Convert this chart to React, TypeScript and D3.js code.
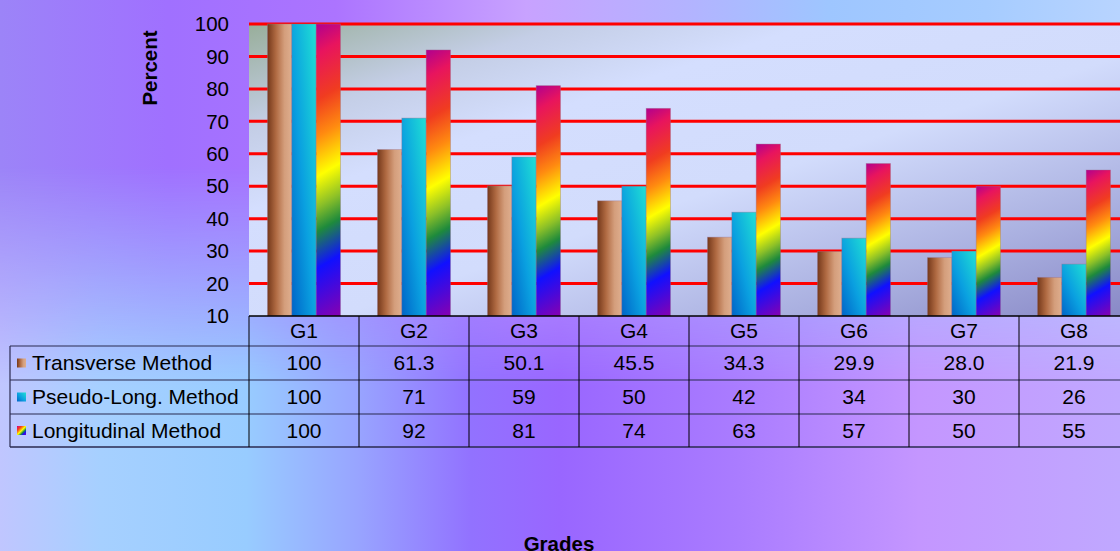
import React from "react";
import * as d3 from "d3";

const grades = ["G1", "G2", "G3", "G4", "G5", "G6", "G7", "G8"];
const seriesNames = ["Transverse Method", "Pseudo-Long. Method", "Longitudinal Method"];
const transverse = [100, 61.3, 50.1, 45.5, 34.3, 29.9, 28.0, 21.9];
const pseudoLong = [100, 71, 59, 50, 42, 34, 30, 26];
const longitudinal = [100, 92, 81, 74, 63, 57, 50, 55];
const transverseLabels = ["100", "61.3", "50.1", "45.5", "34.3", "29.9", "28.0", "21.9"];
const yTicks = [10, 20, 30, 40, 50, 60, 70, 80, 90, 100];

const W = 1120;
const H = 551;
const font = "Arial, 'Liberation Sans', sans-serif";

const rainbow = [
    [0, "#b0008f"], [0.1, "#e8145e"], [0.25, "#f03c20"], [0.37, "#ff8a10"],
    [0.5, "#ffff00"], [0.6, "#8cc028"], [0.68, "#1e8a3c"], [0.8, "#1010ff"], [1, "#8800b0"]
];

const App = () => {
    const plotL = 249, plotR = 1129, plotT = 24, plotB = 316;
    const rowH = [346, 380, 414, 447];
    const tableL = 10;
    const fs = 20.5;
    const tfs = 21;

    const x0 = d3.scaleBand().domain(grades).range([plotL, plotR]).padding(0);
    const x1 = d3.scaleBand().domain(seriesNames).range([0, x0.bandwidth()]).paddingInner(0).paddingOuter(0.76);
    const y = d3.scaleLinear().domain([10, 100]).range([plotB, plotT]);

    const allSeries = [transverse, pseudoLong, longitudinal];
    const rowLabels = [transverseLabels, pseudoLong.map(String), longitudinal.map(String)];
    const fills = ["url(#gBrown)", "url(#gCyan)", ""];
    const theta = Math.atan(14 / 24);

    return (
        <svg width={W} height={H} style={{position: "absolute", left: 0, top: 0, display: "block"}}
             fontFamily={font}>
            <defs>
                <linearGradient id="bgTop" x1="0" y1="0" x2="1" y2="0">
                    <stop offset="0" stopColor="#9c84f8"/>
                    <stop offset="0.15" stopColor="#a070ff"/>
                    <stop offset="0.3" stopColor="#ac74ff"/>
                    <stop offset="0.47" stopColor="#c8a2ff"/>
                    <stop offset="0.62" stopColor="#b2b4ff"/>
                    <stop offset="0.74" stopColor="#9ec6ff"/>
                    <stop offset="0.88" stopColor="#a6ccff"/>
                    <stop offset="1" stopColor="#b8d4ff"/>
                </linearGradient>
                <linearGradient id="bgBot" x1="0" y1="0" x2="1" y2="0">
                    <stop offset="0" stopColor="#c0c6ff"/>
                    <stop offset="0.09" stopColor="#a6d0ff"/>
                    <stop offset="0.22" stopColor="#98ccff"/>
                    <stop offset="0.32" stopColor="#98a4ff"/>
                    <stop offset="0.42" stopColor="#9272ff"/>
                    <stop offset="0.5" stopColor="#9966ff"/>
                    <stop offset="0.66" stopColor="#aa7cff"/>
                    <stop offset="0.82" stopColor="#c496ff"/>
                    <stop offset="1" stopColor="#c0a8ff"/>
                </linearGradient>
                <linearGradient id="maskGrad" x1="0" y1="0" x2="0" y2="1">
                    <stop offset="0.3" stopColor="#fff" stopOpacity="0"/>
                    <stop offset="0.7" stopColor="#fff" stopOpacity="1"/>
                </linearGradient>
                <mask id="bgMask">
                    <rect width={W} height={H} fill="url(#maskGrad)"/>
                </mask>
                <linearGradient id="plotGrad" x1="0" y1="0" x2="1" y2="1">
                    <stop offset="0" stopColor="#98ae9a"/>
                    <stop offset="0.18" stopColor="#c4cee6"/>
                    <stop offset="0.32" stopColor="#d4defe"/>
                    <stop offset="0.55" stopColor="#d2dcfc"/>
                    <stop offset="0.8" stopColor="#aab0e0"/>
                    <stop offset="1" stopColor="#8888c6"/>
                </linearGradient>
                <linearGradient id="gBrown" x1="0" y1="0" x2="1" y2="0">
                    <stop offset="0" stopColor="#74381a"/>
                    <stop offset="0.35" stopColor="#b06a42"/>
                    <stop offset="0.7" stopColor="#d49e7c"/>
                    <stop offset="1" stopColor="#deae8e"/>
                </linearGradient>
                <linearGradient id="gCyan" x1="0" y1="1" x2="1" y2="0">
                    <stop offset="0" stopColor="#0064c8"/>
                    <stop offset="0.45" stopColor="#0aa0e0"/>
                    <stop offset="1" stopColor="#20e0d4"/>
                </linearGradient>
                <linearGradient id="gRainbowLegend" x1="0" y1="0" x2="1" y2="1">
                    {rainbow.map(([o, c], i) => <stop key={i} offset={o as number} stopColor={c as string}/>)}
                </linearGradient>
                {longitudinal.map((v, i) => {
                    const bx = (x0(grades[i]) as number) + (x1(seriesNames[2]) as number);
                    const bw = x1.bandwidth();
                    const top = y(v);
                    const h = plotB - top;
                    const L = bw * Math.sin(theta) + h * Math.cos(theta);
                    return (
                        <linearGradient key={i} id={"gRain" + i} gradientUnits="userSpaceOnUse"
                                        x1={bx} y1={top}
                                        x2={bx + L * Math.sin(theta)} y2={top + L * Math.cos(theta)}>
                            {rainbow.map(([o, c], j) => <stop key={j} offset={o as number} stopColor={c as string}/>)}
                        </linearGradient>
                    );
                })}
            </defs>

            <rect width={W} height={H} fill="url(#bgTop)"/>
            <rect width={W} height={H} fill="url(#bgBot)" mask="url(#bgMask)"/>

            {/* plot area */}
            <rect x={plotL} y={plotT} width={plotR - plotL} height={plotB - plotT} fill="url(#plotGrad)"/>
            {yTicks.filter(t => t > 10).map(t => (
                <line key={t} x1={plotL} x2={plotR} y1={y(t)} y2={y(t)} stroke="#ff0000" strokeWidth={3}/>
            ))}

            {/* bars */}
            {allSeries.map((vals, s) => vals.map((v, i) => (
                <rect key={s + "-" + i}
                      x={(x0(grades[i]) as number) + (x1(seriesNames[s]) as number)}
                      y={y(v)}
                      width={x1.bandwidth()}
                      height={plotB - y(v)}
                      fill={s === 2 ? `url(#gRain${i})` : fills[s]}
                      stroke="rgba(150,110,140,0.45)" strokeWidth={0.8}/>
            )))}

            {/* y ticks */}
            {yTicks.map(t => (
                <text key={t} x={229} y={y(t)} dy="0.35em" textAnchor="end" fontSize={fs} fill="#000">{t}</text>
            ))}
            <text transform={`translate(157,68) rotate(-90)`} textAnchor="middle" fontSize={20.5}
                  fontWeight="bold" fill="#000">Percent</text>

            {/* data table */}
            <g>
                <line x1={plotL} x2={W} y1={plotB} y2={plotB} stroke="#000" strokeWidth={1.5}/>
                {rowH.map((ry, i) => (
                    <line key={ry} x1={tableL} x2={W} y1={ry} y2={ry} stroke="#2a2a50" strokeWidth={i === 3 ? 1.5 : 1.2}/>
                ))}
                <line x1={tableL} x2={tableL} y1={rowH[0]} y2={rowH[3]} stroke="#2a2a50" strokeWidth={1.2}/>
                {grades.map(g => (
                    <line key={g} x1={x0(g) as number} x2={x0(g) as number} y1={plotB} y2={rowH[3]}
                          stroke="#000" strokeWidth={1}/>
                ))}
                {grades.map(g => (
                    <text key={g} x={(x0(g) as number) + x0.bandwidth() / 2} y={(plotB + rowH[0]) / 2} dy="0.35em"
                          textAnchor="middle" fontSize={tfs} fill="#000">{g}</text>
                ))}
                {seriesNames.map((name, s) => {
                    const cy = (rowH[s] + rowH[s + 1]) / 2;
                    return (
                        <g key={name}>
                            <rect x={17} y={cy - 4.5} width={9} height={9}
                                  fill={s === 0 ? "url(#gBrown)" : s === 1 ? "url(#gCyan)" : "url(#gRainbowLegend)"}/>
                            <text x={32} y={cy} dy="0.35em" fontSize={tfs} fill="#000">{name}</text>
                            {rowLabels[s].map((lab, i) => (
                                <text key={i} x={(x0(grades[i]) as number) + x0.bandwidth() / 2} y={cy} dy="0.35em"
                                      textAnchor="middle" fontSize={tfs} fill="#000">{lab}</text>
                            ))}
                        </g>
                    );
                })}
            </g>

            <text x={559} y={551} textAnchor="middle" fontSize={20.5} fontWeight="bold" fill="#000">Grades</text>
        </svg>
    );
};

export default App;
